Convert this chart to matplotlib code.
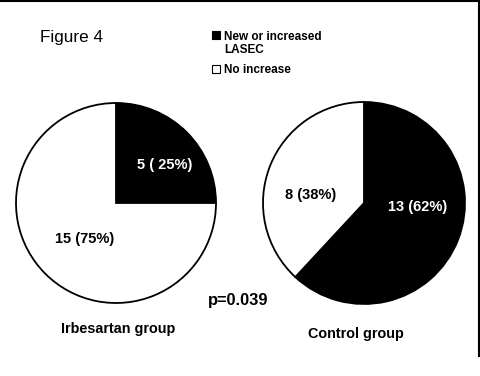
import matplotlib
matplotlib.use("Agg")
import matplotlib.pyplot as plt
from matplotlib.patches import Rectangle
from matplotlib.lines import Line2D

plt.rcParams['font.family'] = ['Liberation Sans', 'DejaVu Sans']

#Data
groups = ['Irbesartan group', 'Control group']
categories = ['New or increased', 'LASEC', 'No increase']
irbesartan_counts = [5, 15]
control_counts = [13, 8]
irbesartan_labels = ['5 ( 25%)', '15 (75%)']
control_labels = ['13 (62%)', '8 (38%)']
p_text = 'p=0.039'
colors = ['black', 'white']

W, H = 480, 376
fig = plt.figure(figsize=(W / 100, H / 100), dpi=100)
ax = fig.add_axes([0, 0, 1, 1])

Y = lambda y: H - y  #pixel rows from top -> data y

wp = dict(edgecolor='black', linewidth=1.3)
ax.pie(irbesartan_counts, colors=colors, startangle=90, counterclock=False,
       center=(116, Y(203)), radius=100, wedgeprops=wp)
ax.pie(control_counts, colors=colors, startangle=90, counterclock=False,
       center=(364, Y(203)), radius=101, wedgeprops=wp)
ax.set_xlim(0, W)
ax.set_ylim(0, H)
ax.set_aspect('equal')
ax.axis('off')

#slice labels
lab = dict(fontsize=10.5, fontweight='bold', ha='left', va='baseline')
ax.text(137, Y(169), irbesartan_labels[0], color='white', **lab)
ax.text(55, Y(243), irbesartan_labels[1], color='black', **lab)
ax.text(388, Y(211), control_labels[0], color='white', **lab)
ax.text(285, Y(199), control_labels[1], color='black', **lab)

#titles and p value
ax.text(40, Y(42), 'Figure 4', fontsize=12.3, ha='left', va='baseline')
ax.text(208, Y(305), p_text, fontsize=11.8, fontweight='bold', ha='left', va='baseline')
ax.text(61, Y(333), groups[0], fontsize=10.4, fontweight='bold', ha='left', va='baseline')
ax.text(308, Y(338), groups[1], fontsize=10.4, fontweight='bold', ha='left', va='baseline')

#legend
ax.add_patch(Rectangle((212, Y(39)), 8, 8, facecolor=colors[0], edgecolor='black', lw=0.8))
ax.add_patch(Rectangle((212, Y(73)), 8, 8, facecolor=colors[1], edgecolor='black', lw=0.8))
leg = dict(fontsize=8.5, fontweight='bold', ha='left', va='baseline')
ax.text(224, Y(39.5), categories[0], **leg)
ax.text(224, Y(53), categories[1], **leg)
ax.text(224, Y(73), categories[2], **leg)

#frame lines (top and right)
fig.add_artist(Line2D([0, 1], [1 - 1 / H, 1 - 1 / H], transform=fig.transFigure, color='black', lw=1.5))
fig.add_artist(Line2D([478.5 / W, 478.5 / W], [1, 1 - 356 / H], transform=fig.transFigure, color='black', lw=1.5))

plt.savefig('out.png', dpi=100)
